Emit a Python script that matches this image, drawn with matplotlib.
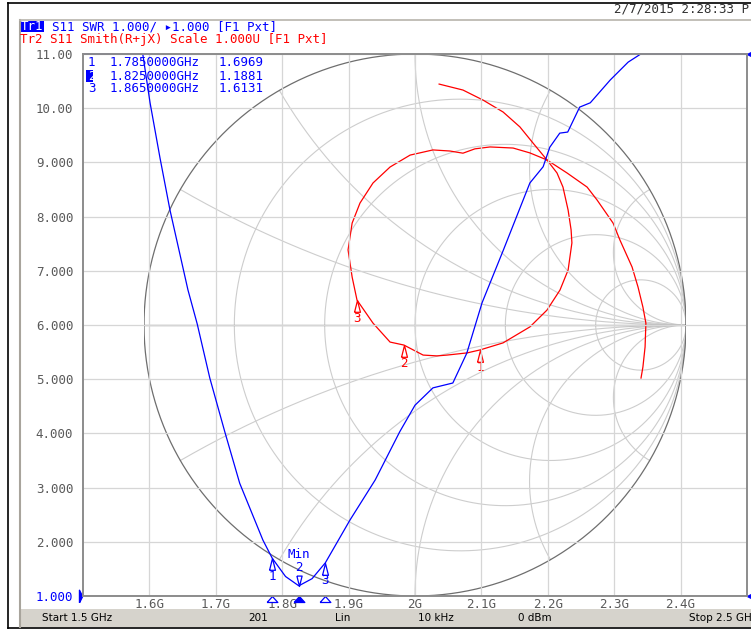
import numpy as np
import matplotlib
matplotlib.use('Agg')
import matplotlib.pyplot as plt
import matplotlib.transforms as mtransforms
from matplotlib.patches import Rectangle
from matplotlib.lines import Line2D

W, H = 751, 630

# Tr1: SWR vs frequency (GHz), values above 11 shown pinned at the top edge
swr_freq = [1.500, 1.590, 1.601, 1.616, 1.631, 1.658, 1.672, 1.691, 1.714, 1.736,
            1.771, 1.785, 1.805, 1.825, 1.845, 1.865, 1.902, 1.940, 1.977, 2.000,
            2.027, 2.057, 2.078, 2.101, 2.133, 2.173, 2.193, 2.203, 2.218, 2.230,
            2.248, 2.264, 2.294, 2.321, 2.340, 2.500]
swr_val = [11.0, 11.0, 10.10, 9.08, 8.12, 6.65, 6.02, 5.02, 4.01, 3.08,
           2.03, 1.697, 1.36, 1.188, 1.32, 1.613, 2.40, 3.14, 4.03, 4.52,
           4.84, 4.93, 5.48, 6.41, 7.38, 8.62, 8.92, 9.28, 9.54, 9.56,
           10.02, 10.10, 10.52, 10.85, 11.0, 11.0]

# Tr2: S11 on the Smith chart (reflection coefficient, real / imag)
gamma_re = [0.089, 0.177, 0.251, 0.325, 0.387, 0.435, 0.487, 0.524, 0.546, 0.565,
            0.576, 0.579, 0.565, 0.535, 0.487, 0.424, 0.325, 0.240, 0.192, 0.118,
            0.081, 0.030, -0.041, -0.092, -0.155, -0.214, -0.232, -0.247, -0.232, -0.203,
            -0.155, -0.092, -0.018, 0.066, 0.129, 0.177, 0.221, 0.277, 0.362, 0.424,
            0.487, 0.561, 0.635, 0.672, 0.731, 0.756, 0.801, 0.823, 0.841, 0.852,
            0.849, 0.841, 0.834]
gamma_im = [0.889, 0.867, 0.830, 0.786, 0.731, 0.672, 0.609, 0.561, 0.509, 0.424,
            0.351, 0.303, 0.203, 0.129, 0.055, -0.007, -0.066, -0.092, -0.103, -0.111,
            -0.114, -0.111, -0.074, -0.063, 0.007, 0.092, 0.177, 0.277, 0.376, 0.450,
            0.524, 0.583, 0.627, 0.646, 0.642, 0.634, 0.650, 0.657, 0.653, 0.635,
            0.609, 0.561, 0.509, 0.461, 0.376, 0.314, 0.214, 0.140, 0.066, 0.007,
            -0.081, -0.155, -0.196]

mk_num = ['1', '2', '3']
mk_freq = [1.785, 1.825, 1.865]
mk_swr = [1.6969, 1.1881, 1.6131]
mk_re = [0.240, -0.041, -0.214]
mk_im = [-0.092, -0.074, 0.092]

x_ticks = [1.6, 1.7, 1.8, 1.9, 2.0, 2.1, 2.2, 2.3, 2.4]
x_labels = ['1.6G', '1.7G', '1.8G', '1.9G', '2G', '2.1G', '2.2G', '2.3G', '2.4G']
y_ticks = [1, 2, 3, 4, 5, 6, 7, 8, 9, 10, 11]
y_labels = ['1.000', '2.000', '3.000', '4.000', '5.000', '6.000', '7.000',
            '8.000', '9.000', '10.00', '11.00']

res_circles = [0.2, 0.5, 1.0, 2.0, 5.0]
react_arcs = [0.268, 0.577, 1.0, 1.732, 3.732]

# the screenshot is cut at its right edge: keep only what is visible there
status = [('Start 1.5 GHz', 42, 'left'), ('201', 258, 'center'), ('Lin', 335, 'left'),
          ('10 kHz', 418, 'left'), ('0 dBm', 518, 'left'), ('Stop 2.5 GH', 689, 'left')]
stamp = '2/7/2015 2:28:33 P'

MONO = 'DejaVu Sans Mono'
GRID = '#d6d6d6'
SGRID = '#cdcdcd'


def fx(x):
    return x / W


def fy(y):
    return 1 - y / H


fig = plt.figure(figsize=(W / 100, H / 100), dpi=100, facecolor='white')

# frame and panel
fig.add_artist(Line2D([fx(8), fx(8)], [fy(3), fy(628)], color='black', lw=1.2))
fig.add_artist(Line2D([fx(8), fx(751)], [fy(3), fy(3)], color='black', lw=1.2))
fig.add_artist(Line2D([fx(8), fx(751)], [fy(628), fy(628)], color='black', lw=1.2))
fig.add_artist(Line2D([fx(19.5), fx(19.5)], [fy(20), fy(627)], color='#a8a49c', lw=1.5))
fig.add_artist(Line2D([fx(19.5), fx(751)], [fy(20), fy(20)], color='#b8b4ac', lw=1.2))
fig.add_artist(Rectangle((fx(20), fy(627)), fx(731), 18 / H,
                         facecolor='#d6d3cc', edgecolor='none'))

# Smith chart axes (square, centred on the plot area)
ax2 = fig.add_axes([144 / W, 1 - 596 / H, 542 / W, 542 / H])
ax2.set_xlim(-1, 1)
ax2.set_ylim(-1, 1)
ax2.axis('off')
ax2.set_zorder(1)

t = np.linspace(0, 2 * np.pi, 600)
for r in res_circles:
    c = r / (1 + r)
    rad = 1 / (1 + r)
    ax2.plot(c + rad * np.cos(t), rad * np.sin(t), color=SGRID, lw=0.8)
rr = np.concatenate([[0], np.geomspace(1e-3, 1e3, 1500)])
for x in react_arcs:
    for s in (1, -1):
        z = rr + 1j * s * x
        g = (z - 1) / (z + 1)
        ax2.plot(g.real, g.imag, color=SGRID, lw=0.8)
ax2.plot(np.cos(t), np.sin(t), color='#6e6e6e', lw=0.9)
ax2.plot([-1, 1], [0, 0], color='#6e6e6e', lw=0.9)

ax2.plot(gamma_re, gamma_im, color='#ff0000', lw=0.9)

tri_up = [(-0.25, -1), (0, 0), (0.25, -1), (-0.25, -1)]
tri_dn = [(-0.25, 1), (0, 0), (0.25, 1), (-0.25, 1)]
for n, gr, gi in zip(mk_num, mk_re, mk_im):
    ax2.plot(gr, gi, marker=tri_up, ms=17, mfc='none', mec='#ff0000', mew=0.9, clip_on=False)
    ax2.annotate(n, (gr, gi), xytext=(0, -13), textcoords='offset points', ha='center',
                 va='center', color='#ff0000', fontsize=9, family=MONO)

# rectangular SWR axes on top
ax = fig.add_axes([83 / W, 1 - 596 / H, 664 / W, 542 / H])
ax.set_zorder(2)
ax.patch.set_visible(False)
ax.set_xlim(1.5, 2.5)
ax.set_ylim(1, 11)
ax.set_xticks(x_ticks, x_labels)
ax.set_yticks(y_ticks, y_labels)
ax.grid(True, color=GRID, lw=0.9)
ax.set_axisbelow(True)
ax.tick_params(length=0, labelsize=9, labelcolor='#5a5a5a')
ax.tick_params(axis='y', pad=7)
ax.tick_params(axis='x', pad=1.5)
for lab in ax.get_xticklabels() + ax.get_yticklabels():
    lab.set_family(MONO)
ax.get_yticklabels()[0].set_color('#0000ff')
for sp in ax.spines.values():
    sp.set_color('#8c8c8c')
    sp.set_linewidth(1.4)

ax.plot(swr_freq, swr_val, color='#0000ff', lw=0.9, clip_on=False)

# trace markers on Tr1
for n, f, v in zip(mk_num, mk_freq, mk_swr):
    if n == '2':
        ax.plot(f, v, marker=tri_dn, ms=15, mfc='none', mec='#0000ff', mew=0.9)
        ax.annotate(n, (f, v), xytext=(0, 13.5), textcoords='offset points', ha='center',
                    va='center', color='#0000ff', fontsize=9, family=MONO)
        ax.annotate('Min', (f, v), xytext=(0, 22.5), textcoords='offset points', ha='center',
                    va='center', color='#0000ff', fontsize=9, family=MONO)
    else:
        ax.plot(f, v, marker=tri_up, ms=17, mfc='none', mec='#0000ff', mew=0.9)
        ax.annotate(n, (f, v), xytext=(0, -13), textcoords='offset points', ha='center',
                    va='center', color='#0000ff', fontsize=9, family=MONO)

# marker flags under the frequency axis
flag = [(-0.9, 0), (0, 1), (0.9, 0), (-0.9, 0)]
bt = mtransforms.offset_copy(mtransforms.blended_transform_factory(ax.transData, ax.transAxes),
                             fig=fig, y=-6, units='dots')
for n, f in zip(mk_num, mk_freq):
    ax.plot(f, 0, marker=flag, ms=8.6, transform=bt, clip_on=False, mec='#0000ff', mew=0.9,
            mfc='#0000ff' if n == '2' else 'white')

# reference-level arrow and right-edge flags
ax.plot(0, 1, marker=[(0, -1), (0.5, 0), (0, 1), (0, -1)], ms=9,
        transform=mtransforms.offset_copy(mtransforms.blended_transform_factory(ax.transAxes, ax.transData),
                                          fig=fig, x=-4, units='dots'),
        color='#0000ff', clip_on=False)
for yy in (54, 596):
    fig.add_artist(Line2D([fx(750)], [fy(yy)], marker='<', ms=4, color='#0000ff',
                          transform=fig.transFigure))

# header
fig.text(fx(614), fy(9), stamp, family=MONO, fontsize=9, color='#303030',
         va='center', ha='left')
fig.add_artist(Rectangle((fx(19), fy(32)), 25 / W, 11 / H, facecolor='#0000ff', edgecolor='none'))
fig.text(fx(20.5), fy(26.5), 'Tr1', family=MONO, fontsize=9, color='white', va='center')
fig.text(fx(52), fy(26.5), 'S11 SWR 1.000/ \u25b81.000 [F1 Pxt]', family=MONO, fontsize=9,
         color='#0000ff', va='center')
fig.text(fx(20.5), fy(39.5), 'Tr2 S11 Smith(R+jX) Scale 1.000U [F1 Pxt]', family=MONO,
         fontsize=9, color='#ff0000', va='center')

# marker table
for i, (n, f, v) in enumerate(zip(mk_num, mk_freq, mk_swr)):
    yy = 63 + 13 * i
    if n == '2':
        fig.add_artist(Rectangle((fx(86), fy(yy + 6)), 7 / W, 12 / H, facecolor='#0000ff',
                                 edgecolor='none'))
        fig.text(fx(88), fy(yy), n, family=MONO, fontsize=9, color='white', va='center')
    else:
        fig.text(fx(88), fy(yy), n, family=MONO, fontsize=9, color='#0000ff', va='center')
    fig.text(fx(110), fy(yy), '%.7fGHz' % f, family=MONO, fontsize=9, color='#0000ff',
             va='center')
    fig.text(fx(219), fy(yy), '%.4f' % v, family=MONO, fontsize=9, color='#0000ff',
             va='center')

# status bar
for txt, xx, ha in status:
    fig.text(fx(xx), fy(618), txt, fontsize=7.5, color='black', va='center', ha=ha)

fig.savefig('out.png', dpi=100, facecolor='white')
